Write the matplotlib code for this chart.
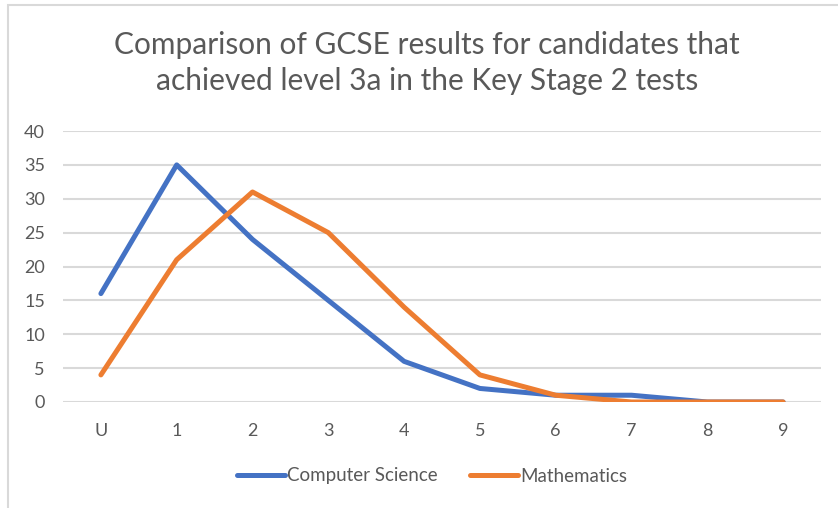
import matplotlib
matplotlib.use("Agg")
import matplotlib.pyplot as plt
from matplotlib.patches import Rectangle

categories = ["U", "1", "2", "3", "4", "5", "6", "7", "8", "9"]
computer_science = [16, 35, 24, 15, 6, 2, 1, 1, 0, 0]
mathematics = [4, 21, 31, 25, 14, 4, 1, 0, 0, 0]
yticks = [0, 5, 10, 15, 20, 25, 30, 35, 40]
title = "Comparison of GCSE results for candidates that\nachieved level 3a in the Key Stage 2 tests"

plt.rcParams['font.family'] = ['Lato', 'DejaVu Sans']
text_col = "#595959"

fig = plt.figure(figsize=(8.38, 5.08), dpi=100)
fig.patches.append(Rectangle((8/838, -0.1), 1.2, 1 - 5/508 + 0.1, transform=fig.transFigure,
                             fill=False, edgecolor="#d9d9d9", linewidth=1.5, zorder=0))

ax = fig.add_axes([63/838, 1 - 402/508, (821 - 63)/838, (402 - 131)/508])
x = list(range(len(categories)))
ax.plot(x, computer_science, color="#4472c4", linewidth=3.6, solid_capstyle="round",
        solid_joinstyle="round", label="Computer Science", zorder=3)
ax.plot(x, mathematics, color="#ed7d31", linewidth=3.6, solid_capstyle="round",
        solid_joinstyle="round", label="Mathematics", zorder=3)

ax.set_xlim(-0.5, len(categories) - 0.5)
ax.set_ylim(0, 40)
ax.set_yticks(yticks)
ax.set_xticks(x)
ax.set_xticklabels(categories)
ax.grid(axis="y", color="#d9d9d9", linewidth=1.5)
ax.set_axisbelow(True)
for s in ax.spines.values():
    s.set_visible(False)
ax.tick_params(length=0, labelsize=13, colors=text_col)
ax.tick_params(axis="y", pad=13)
ax.tick_params(axis="x", pad=15)

fig.text(427/838, 1 - 63/508, title, ha="center", va="center", fontsize=21.5,
         color=text_col, linespacing=1.38)

leg = fig.legend(loc="center", bbox_to_anchor=(432/838, 1 - 476/508), ncol=2, frameon=False,
                 fontsize=13.5, handlelength=2.55, columnspacing=1.75, handletextpad=0.1)
for t in leg.get_texts():
    t.set_color(text_col)

fig.savefig("out.png", dpi=100)
